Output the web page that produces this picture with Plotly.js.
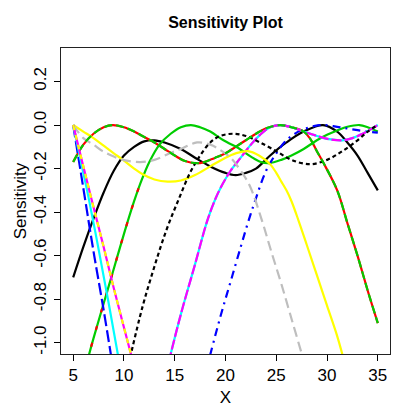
<!DOCTYPE html>
<html>
<head>
<meta charset="utf-8">
<script src="https://cdn.plot.ly/plotly-3.0.1.min.js"></script>
<style>
  html, body { margin: 0; padding: 0; background: #fff; }
  #plot { width: 415px; height: 415px; }
</style>
</head>
<body>
<div id="plot"></div>
<script>
// values

// black solid
var blackX = [5, 6, 7, 8, 9, 10, 11, 12, 13, 14, 15.6, 17, 18.5, 20, 21, 22, 23, 24.4, 26, 27.7, 29.6, 31, 32, 33, 34, 35];
var blackY = [-0.70, -0.56, -0.43, -0.31, -0.21, -0.14, -0.10, -0.075, -0.07, -0.08, -0.11, -0.15, -0.19, -0.22, -0.23, -0.22, -0.20, -0.14, -0.08, -0.03, 0, -0.03, -0.08, -0.14, -0.22, -0.30];

// red + green overlapping curve (peaks near 9 and 25)
var rgX = [5, 6, 7, 8, 8.9, 10, 11, 12, 13, 14, 15, 16, 17.5, 19, 20, 21, 22, 23, 24, 25.4, 26.5, 27.7, 28.3, 29, 29.6, 31, 32, 33, 34, 35];
var rgY = [-0.17, -0.09, -0.04, -0.01, 0, -0.01, -0.03, -0.055, -0.08, -0.11, -0.14, -0.165, -0.175, -0.15, -0.13, -0.10, -0.07, -0.04, -0.015, 0, -0.01, -0.03, -0.06, -0.12, -0.17, -0.30, -0.45, -0.60, -0.76, -0.91];

// green curve (peaks near 16.6 and 33)
var greenX = [6.3, 7, 8, 9, 10, 11, 11.6, 12.5, 13.5, 14.6, 15.6, 16.6, 17.5, 18.5, 19.8, 21.4, 22.5, 23.5, 24.3, 25.5, 26.5, 27.7, 29, 30, 31, 32, 33.2, 34, 35];
var greenY = [-1.1, -0.98, -0.82, -0.66, -0.50, -0.35, -0.27, -0.17, -0.09, -0.04, -0.01, 0, -0.01, -0.03, -0.07, -0.11, -0.145, -0.17, -0.175, -0.16, -0.14, -0.11, -0.07, -0.045, -0.025, -0.008, 0, -0.01, -0.03];
// red dashes seen on the rising part of the green curve
var redPartX = [6.3, 7, 8, 9, 10, 11, 11.6];
var redPartY = [-1.1, -0.98, -0.82, -0.66, -0.50, -0.35, -0.27];

// blue dot-dash
var blueX = [18.3, 19.5, 20.5, 21.5, 22.2, 22.9, 24, 25, 26, 27, 27.7, 28.7, 29.6, 31, 32.5, 34, 35];
var blueY = [-1.09, -0.88, -0.72, -0.56, -0.45, -0.35, -0.21, -0.13, -0.07, -0.035, -0.02, -0.005, 0, -0.008, -0.02, -0.03, -0.035];

// magenta + cyan overlapping curve
var mcX = [14.4, 15.6, 17, 18.2, 19, 19.5, 20.5, 21.5, 22.5, 23.4, 24.4, 25.4, 26.5, 27.7, 29, 30.2, 31.5, 32.5, 33.5, 34.3, 35];
var mcY = [-1.09, -0.87, -0.64, -0.44, -0.34, -0.29, -0.21, -0.15, -0.09, -0.045, -0.01, 0, -0.01, -0.03, -0.05, -0.065, -0.07, -0.06, -0.04, -0.02, 0];

// yellow solid
var yellowX = [5, 6, 7, 8, 9, 9.9, 11, 11.8, 13, 14.3, 15.6, 17, 18.5, 20, 21, 22.2, 23.3, 24.4, 25, 25.5, 26, 26.5, 27.2, 28, 29, 30, 31, 31.6];
var yellowY = [0, -0.03, -0.06, -0.095, -0.13, -0.16, -0.20, -0.225, -0.25, -0.26, -0.255, -0.23, -0.19, -0.15, -0.13, -0.12, -0.14, -0.18, -0.22, -0.26, -0.30, -0.35, -0.44, -0.55, -0.69, -0.83, -0.97, -1.07];

// gray dashed
var grayX = [5, 6, 7, 7.9, 9, 9.9, 11.6, 13, 14.5, 15.6, 17.2, 18.5, 19.5, 20.5, 21.5, 22.4, 23.6, 24.5, 25.5, 26.5, 27.5, 27.8];
var grayY = [0, -0.06, -0.09, -0.12, -0.145, -0.16, -0.17, -0.16, -0.13, -0.11, -0.08, -0.09, -0.115, -0.15, -0.21, -0.28, -0.44, -0.58, -0.73, -0.89, -1.05, -1.1];

// black dotted
var dotX = [10.6, 11.8, 13, 14.2, 15.4, 16.5, 17.5, 18.5, 19.5, 20.8, 22, 23.4, 25, 26.5, 28.3, 30, 31.5, 33, 34, 35];
var dotY = [-1.07, -0.84, -0.65, -0.48, -0.34, -0.22, -0.14, -0.08, -0.05, -0.04, -0.05, -0.08, -0.12, -0.16, -0.18, -0.16, -0.12, -0.07, -0.03, 0];

// steep curves on the left
var blueLX = [5, 6, 7, 8, 8.8];
var blueLY = [0, -0.29, -0.58, -0.85, -1.08];
var cyanLX = [5, 6, 6.5, 7.5, 8.5, 9.5];
var cyanLY = [0, -0.22, -0.33, -0.57, -0.82, -1.08];
var magLX = [5, 6, 6.8, 8, 9, 10, 10.9];
var magLY = [0, -0.19, -0.34, -0.56, -0.75, -0.93, -1.09];

var yTicks = [-1.0, -0.8, -0.6, -0.4, -0.2, 0.0, 0.2];
var yTickText = ['-1.0', '-0.8', '-0.6', '-0.4', '-0.2', '0.0', '0.2'];
var xTicks = [5, 10, 15, 20, 25, 30, 35];

function line(x, y, color, dash) {
  return {
    x: x, y: y, type: 'scatter', mode: 'lines', hoverinfo: 'none',
    line: {color: color, width: 2.2, dash: dash || 'solid', shape: 'spline', smoothing: 1}
  };
}

var data = [
  line(blackX, blackY, 'black'),
  line(rgX, rgY, '#ff0000'),
  line(greenX, greenY, '#00cd00'),
  line(blueX, blueY, '#0000ff', '2px,5px,8px,5px'),
  line(mcX, mcY, '#00ffff'),
  line(mcX, mcY, '#ff00ff', '10px,3px'),
  line(yellowX, yellowY, '#ffff00'),
  line(grayX, grayY, '#bebebe', '10px,5px'),
  line(dotX, dotY, 'black', '4px,3px'),
  line(redPartX, redPartY, '#ff0000', '4px,14px'),
  line(rgX, rgY, '#00cd00', '8px,4px'),
  line(blueLX, blueLY, '#0000ff', '12px,4px'),
  line(cyanLX, cyanLY, '#00ffff'),
  line(magLX, magLY, '#ff00ff'),
  line(magLX, magLY, '#ffff00', '5px,5px')
];

var font = {family: 'Liberation Sans, Arial, sans-serif', size: 17, color: 'black'};

var layout = {
  width: 415,
  height: 415,
  showlegend: false,
  paper_bgcolor: 'white',
  plot_bgcolor: 'white',
  font: font,
  margin: {l: 61, r: 25, t: 48, b: 61},
  title: {
    text: 'Sensitivity Plot',
    font: {family: 'Liberation Sans, Arial, sans-serif', size: 16, weight: 'bold', color: 'black'},
    xref: 'paper', x: 0.5, yref: 'container', y: 0.947, yanchor: 'middle'
  },
  xaxis: {
    title: {text: 'X', font: font, standoff: 6},
    range: [3.8, 36.2],
    tickvals: xTicks,
    ticks: 'outside', ticklen: 6, tickcolor: 'black',
    showline: true, mirror: true, linecolor: '#222', linewidth: 1,
    showgrid: false, zeroline: false,
    tickfont: font
  },
  yaxis: {
    title: {text: 'Sensitivity', font: font, standoff: 0},
    range: [-1.052, 0.354],
    tickvals: yTicks,
    ticktext: yTickText,
    tickangle: -90,
    ticklabelstandoff: 1,
    ticks: 'outside', ticklen: 6, tickcolor: 'black',
    showline: true, mirror: true, linecolor: '#222', linewidth: 1,
    showgrid: false, zeroline: false,
    tickfont: font
  }
};

Plotly.newPlot('plot', data, layout, {displayModeBar: false, staticPlot: true});
</script>
</body>
</html>
